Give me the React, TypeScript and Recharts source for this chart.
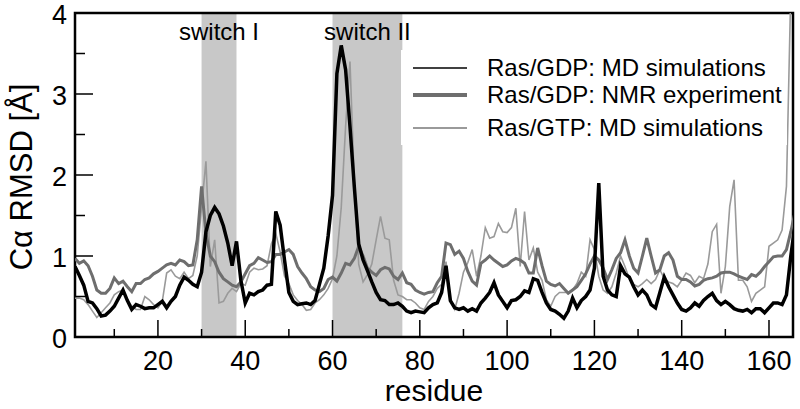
import { LineChart, Line, XAxis, YAxis, ReferenceArea } from 'recharts'

// Cα RMSD per residue (Å), residues 1..166
const gdpMd = [
  0.87, 0.76, 0.64, 0.44, 0.42, 0.35, 0.26, 0.27, 0.32, 0.38,
  0.48, 0.58, 0.45, 0.34, 0.40, 0.38, 0.35, 0.36, 0.36, 0.40,
  0.44, 0.36, 0.44, 0.50, 0.64, 0.74, 0.70, 0.65, 0.62, 0.80,
  1.30, 1.50, 1.60, 1.52, 1.37, 1.16, 0.88, 1.18, 0.70, 0.42,
  0.54, 0.52, 0.56, 0.58, 0.64, 0.65, 1.55, 1.38, 0.95, 0.55,
  0.44, 0.40, 0.41, 0.42, 0.40, 0.45, 0.65, 0.85, 1.25, 1.75,
  3.25, 3.60, 3.30, 2.60, 1.85, 1.15, 0.95, 0.82, 0.68, 0.55,
  0.46, 0.45, 0.40, 0.40, 0.42, 0.38, 0.32, 0.30, 0.32, 0.31,
  0.30, 0.36, 0.40, 0.42, 0.55, 0.88, 0.45, 0.36, 0.34, 0.36,
  0.32, 0.35, 0.32, 0.42, 0.48, 0.55, 0.67, 0.52, 0.44, 0.36,
  0.45, 0.46, 0.50, 0.57, 0.55, 0.72, 0.70, 0.55, 0.42, 0.34,
  0.32, 0.28, 0.23, 0.32, 0.48, 0.36, 0.45, 0.50, 0.58, 0.85,
  1.90, 0.75, 0.58, 0.52, 0.50, 0.88, 0.78, 0.74, 0.62, 0.52,
  0.58, 0.52, 0.40, 0.36, 0.55, 0.74, 0.62, 0.52, 0.42, 0.34,
  0.32, 0.36, 0.42, 0.38, 0.45, 0.50, 0.54, 0.45, 0.40, 0.44,
  0.40, 0.35, 0.33, 0.32, 0.34, 0.30, 0.35, 0.35, 0.30, 0.36,
  0.42, 0.42, 0.40, 0.52, 1.00, 1.40,
]

const gdpNmr = [
  0.97, 0.91, 0.94, 0.88, 0.75, 0.58, 0.54, 0.54, 0.60, 0.73,
  0.66, 0.69, 0.62, 0.56, 0.66, 0.66, 0.71, 0.73, 0.78, 0.81,
  0.85, 0.89, 0.91, 0.89, 0.95, 0.93, 0.88, 0.89, 1.20, 1.86,
  1.28, 1.00, 0.93, 0.80, 0.72, 0.68, 0.64, 0.62, 0.68, 0.78,
  0.88, 0.91, 0.98, 0.95, 0.92, 0.93, 1.02, 1.02, 1.05, 1.08,
  1.02, 0.87, 0.79, 0.72, 0.62, 0.58, 0.56, 0.60, 0.71, 0.74,
  0.69, 0.79, 0.91, 0.89, 0.97, 1.12, 1.00, 0.85, 0.80, 0.76,
  0.83, 0.86, 0.84, 0.75, 0.71, 0.79, 0.67, 0.65, 0.58, 0.55,
  0.53, 0.55, 0.56, 0.67, 0.75, 1.16, 1.14, 1.02, 1.06, 0.97,
  0.81, 0.69, 0.64, 0.91, 0.95, 1.00, 0.95, 0.91, 0.87, 0.89,
  0.94, 0.97, 0.95, 0.91, 0.79, 0.79, 1.10, 0.88, 0.69, 0.65,
  0.63, 0.66, 0.60, 0.54, 0.58, 0.62, 0.70, 0.78, 0.90, 1.00,
  0.95, 0.85, 0.71, 0.83, 0.97, 1.04, 1.20, 1.00, 0.85, 0.79,
  1.00, 1.22, 1.00, 0.79, 0.83, 1.00, 1.04, 0.95, 0.75, 0.71,
  0.71, 0.68, 0.63, 0.65, 0.70, 0.72, 0.73, 0.75, 0.79, 0.80,
  0.80, 0.78, 0.75, 0.73, 0.71, 0.77, 0.75, 0.80, 0.87, 0.93,
  0.99, 1.00, 1.00, 1.08, 1.30, 1.55,
]

const gtpMd = [
  0.48, 0.48, 0.46, 0.40, 0.32, 0.24, 0.30, 0.36, 0.42, 0.52,
  0.56, 0.58, 0.46, 0.38, 0.34, 0.34, 0.50, 0.46, 0.40, 0.36,
  0.44, 0.79, 0.83, 0.75, 0.72, 0.80, 0.72, 0.76, 1.00, 1.60,
  2.17, 0.87, 1.20, 0.42, 0.44, 0.54, 0.60, 0.56, 0.66, 0.64,
  0.80, 0.85, 0.83, 0.84, 0.88, 1.15, 1.28, 1.05, 0.75, 0.66,
  0.52, 0.45, 0.40, 0.33, 0.34, 0.42, 0.46, 0.52, 0.60, 0.72,
  1.00, 1.60, 2.60, 3.40, 1.90, 0.90, 0.68, 0.77, 0.90, 1.20,
  1.49, 1.22, 1.20, 0.70, 0.52, 0.50, 0.46, 0.46, 0.42, 0.36,
  0.34, 0.44, 0.50, 0.60, 0.65, 0.93, 0.45, 0.34, 0.54, 0.80,
  0.92, 1.08, 0.75, 1.00, 1.35, 1.22, 1.24, 1.40, 1.30, 1.29,
  1.35, 1.59, 0.87, 1.55, 0.95, 1.10, 0.80, 0.70, 0.46, 0.38,
  0.50, 0.55, 0.55, 0.55, 0.58, 0.66, 0.80, 0.75, 1.20, 1.08,
  0.75, 0.58, 0.54, 0.62, 0.79, 1.00, 0.87, 0.72, 0.65, 0.62,
  0.66, 0.71, 0.66, 0.71, 0.83, 0.72, 0.68, 0.66, 0.62, 0.70,
  0.79, 0.76, 0.67, 0.75, 0.72, 0.90, 1.30, 1.39, 0.54, 0.87,
  1.61, 1.94, 0.70, 0.70, 0.62, 0.44, 0.54, 0.58, 0.62, 1.12,
  1.16, 1.20, 1.32, 1.86, 4.30, 4.50,
]

const xTicks = [10, 20, 30, 40, 50, 60, 70, 80, 90, 100, 110, 120, 130, 140, 150, 160]
const yTicks = [0, 0.5, 1, 1.5, 2, 2.5, 3, 3.5, 4]
const switchI = [30, 38]
const switchII = [60, 76]

const legendItems = [
  { label: 'Ras/GDP: MD simulations', color: '#000', width: 1.5 },
  { label: 'Ras/GDP: NMR experiment', color: '#6e6e6e', width: 4 },
  { label: 'Ras/GTP: MD simulations', color: '#9a9a9a', width: 2 },
]

const data = gdpMd.map((v, i) => ({
  residue: i + 1,
  gdpMd: v,
  gdpNmr: gdpNmr[i],
  gtpMd: gtpMd[i],
}))

const font = '"Liberation Sans", Arial, Helvetica, sans-serif'

function XTick({ x, y, payload }: any) {
  const major = payload.value % 20 === 0
  return (
    <g>
      <line x1={x} x2={x} y1={y} y2={y - (major ? 17 : 8)} stroke="#000" strokeWidth={1.5} />
      {major && (
        <text x={x} y={y + 33} textAnchor="middle" fontSize={27} fill="#000" fontFamily={font}>
          {payload.value}
        </text>
      )}
    </g>
  )
}

function YTick({ x, y, payload }: any) {
  const major = Number.isInteger(payload.value)
  return (
    <g>
      <line x1={x} x2={x + (major ? 18 : 10)} y1={y} y2={y} stroke="#000" strokeWidth={1.5} />
      {major && (
        <text x={x - 8} y={y + 11} textAnchor="end" fontSize={27} fill="#000" fontFamily={font}>
          {payload.value}
        </text>
      )}
    </g>
  )
}

function App() {
  return (
    <div style={{ position: 'absolute', left: 0, top: 0, width: 800, height: 409, background: '#fff', fontFamily: font }}>
      <LineChart width={800} height={409} data={data} margin={{ top: 13, right: 7, left: 0, bottom: 0 }}>
        <ReferenceArea
          x1={switchI[0]}
          x2={switchI[1]}
          y1={0}
          y2={4}
          fill="#c8c8c8"
          fillOpacity={1}
          stroke="none"
          label={{ value: 'switch I', position: 'insideTop', offset: 10, fontSize: 24, fill: '#000', fontFamily: font }}
        />
        <ReferenceArea
          x1={switchII[0]}
          x2={switchII[1]}
          y1={0}
          y2={4}
          fill="#c8c8c8"
          fillOpacity={1}
          stroke="none"
          label={{ value: 'switch II', position: 'insideTop', offset: 10, fontSize: 24, fill: '#000', fontFamily: font }}
        />
        <XAxis
          type="number"
          dataKey="residue"
          domain={[1, 165.5]}
          allowDataOverflow
          ticks={xTicks}
          interval={0}
          height={72}
          axisLine={false}
          tickLine={false}
          tickSize={0}
          tickMargin={0}
          tick={<XTick />}
          label={() => (
            <text x={434} y={401} textAnchor="middle" fontSize={30} fill="#000" fontFamily={font}>
              residue
            </text>
          )}
        />
        <YAxis
          type="number"
          domain={[0, 4]}
          allowDataOverflow
          ticks={yTicks}
          interval={0}
          width={75}
          axisLine={false}
          tickLine={false}
          tickSize={0}
          tickMargin={0}
          tick={<YTick />}
          label={() => (
            <text x={32} y={177} transform="rotate(-90 32 177)" textAnchor="middle" fontSize={31} fill="#000" fontFamily={font}>
              Cα RMSD [Å]
            </text>
          )}
        />
        <Line type="linear" dataKey="gtpMd" stroke="#9a9a9a" strokeWidth={1.6} dot={false} isAnimationActive={false} />
        <Line type="linear" dataKey="gdpNmr" stroke="#6e6e6e" strokeWidth={3} dot={false} isAnimationActive={false} />
        <Line type="linear" dataKey="gdpMd" stroke="#000" strokeWidth={3.5} dot={false} isAnimationActive={false} />
        <ReferenceArea x1={1} x2={165.5} y1={0} y2={4} fill="none" stroke="#000" strokeWidth={2.5} />
      </LineChart>
      <div
        style={{
          position: 'absolute',
          left: 401,
          top: 50,
          width: 386,
          height: 95,
          background: '#fff',
        }}
      >
        {legendItems.map((item, i) => (
          <div key={item.label} style={{ position: 'absolute', left: 0, top: [4, 31, 64][i], height: 28, display: 'flex', alignItems: 'center' }}>
            <svg width={86} height={28}>
              <line x1={12} x2={66} y1={14} y2={14} stroke={item.color} strokeWidth={item.width} />
            </svg>
            <span style={{ fontSize: 24, color: '#000', whiteSpace: 'nowrap' }}>{item.label}</span>
          </div>
        ))}
      </div>
    </div>
  )
}

export default App
